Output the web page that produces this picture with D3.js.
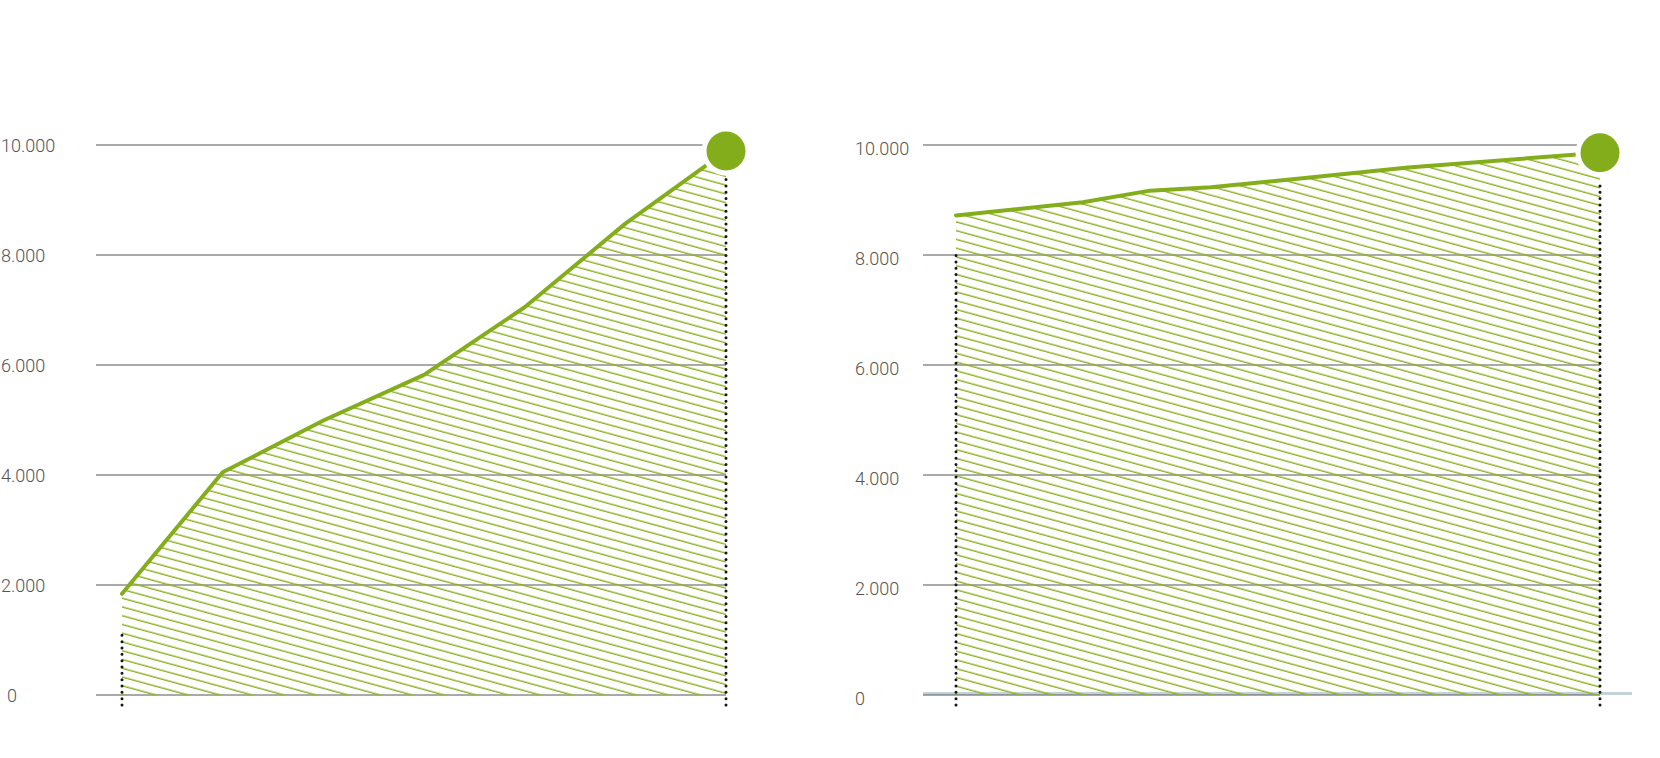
<!DOCTYPE html>
<html>
<head>
<meta charset="utf-8">
<script src="https://cdn.jsdelivr.net/npm/d3@7/dist/d3.min.js"></script>
<style>
  html, body { margin: 0; padding: 0; background: #fff; }
  svg { display: block; }
  .tick-label { font-family: Roboto, "DejaVu Sans", sans-serif; font-weight: 300; font-size: 18px; fill: #555; }
</style>
</head>
<body>
<svg id="chart" width="1660" height="758"></svg>
<script>
// ---- data ----
const yTicks = [0, 2000, 4000, 6000, 8000, 10000];
const tickLabels = ["0", "2.000", "4.000", "6.000", "8.000", "10.000"];

// left panel: evenly spaced observations
const leftX = [0, 1, 2, 3, 4, 5, 6];
const leftValues = [1840, 4050, 4990, 5820, 7050, 8570, 9890];
const leftDottedTop = 1100;

// right panel: unevenly spaced observations (relative position 0-100)
const rightX = [0, 19.7, 30.1, 39.6, 54.2, 70.2, 100];
const rightValues = [8720, 8960, 9170, 9230, 9400, 9590, 9860];
const rightDottedTop = 8050;

// ---- drawing ----
const svg = d3.select("#chart");
const green = "#84ad1c";
const hatchGreen = "#8ab320";

const defs = svg.append("defs");
const pat = defs.append("pattern")
  .attr("id", "hatch")
  .attr("patternUnits", "userSpaceOnUse")
  .attr("width", 40)
  .attr("height", 8.45)
  .attr("patternTransform", "rotate(15.3)");
pat.append("line")
  .attr("x1", 0).attr("x2", 40)
  .attr("y1", 4).attr("y2", 4)
  .attr("stroke", hatchGreen)
  .attr("stroke-width", 1.35);

const y = d3.scaleLinear().domain([0, 10000]).range([695, 145]);

function panel(cfg) {
  const g = svg.append("g");
  const x = d3.scaleLinear().domain(cfg.domain).range(cfg.range);
  const data = cfg.xs.map((d, i) => ({ x: d, v: cfg.values[i] }));

  if (cfg.band) {
    g.append("line")
      .attr("x1", cfg.gridStart).attr("x2", cfg.band)
      .attr("y1", y(0) - 1.5).attr("y2", y(0) - 1.5)
      .attr("stroke", "#c5d1d8").attr("stroke-width", 3);
  }

  g.selectAll("line.grid").data(yTicks).enter().append("line")
    .attr("class", "grid")
    .attr("x1", cfg.gridStart).attr("x2", cfg.range[1])
    .attr("y1", d => y(d)).attr("y2", d => y(d))
    .attr("stroke", "#555").attr("stroke-width", 1);

  g.selectAll("text.tick-label").data(yTicks).enter().append("text")
    .attr("class", "tick-label")
    .attr("x", (d) => cfg.labelX + (d === 0 ? cfg.zeroShift : 0))
    .attr("y", d => y(d) + cfg.labelDy)
    .attr("dominant-baseline", "central")
    .text((d, i) => tickLabels[i]);

  const area = d3.area()
    .x(d => x(d.x))
    .y0(y(0))
    .y1(d => y(d.v));
  g.append("path")
    .datum(data)
    .attr("d", area)
    .attr("fill", "url(#hatch)");

  const dot = (xPos, yTop) => {
    g.append("path")
      .attr("d", `M${xPos},${y(0) + 10}V${yTop}`)
      .attr("stroke", "#151515")
      .attr("stroke-width", 3)
      .attr("stroke-linecap", "round")
      .attr("stroke-dasharray", "0 6.33")
      .attr("fill", "none");
  };
  const last = data[data.length - 1];
  dot(x(data[0].x), y(cfg.dottedTop));
  dot(x(last.x), y(last.v) + 27);

  const line = d3.line().x(d => x(d.x)).y(d => y(d.v));
  g.append("path")
    .datum(data)
    .attr("d", line)
    .attr("fill", "none")
    .attr("stroke", green)
    .attr("stroke-width", 4)
    .attr("stroke-linejoin", "round")
    .attr("stroke-linecap", "round");

  g.append("circle")
    .attr("cx", x(last.x)).attr("cy", y(last.v))
    .attr("r", 24.5).attr("fill", "#fff");
  g.append("circle")
    .attr("cx", x(last.x)).attr("cy", y(last.v))
    .attr("r", 19.5).attr("fill", green);
}

panel({
  domain: [0, 6], range: [122, 726], xs: leftX, values: leftValues,
  dottedTop: leftDottedTop, gridStart: 96, labelX: 1, zeroShift: 6, labelDy: 0
});
panel({
  domain: [0, 100], range: [956, 1600], xs: rightX, values: rightValues,
  dottedTop: rightDottedTop, gridStart: 923, labelX: 855, zeroShift: 0, labelDy: 3.5,
  band: 1632
});
</script>
</body>
</html>
